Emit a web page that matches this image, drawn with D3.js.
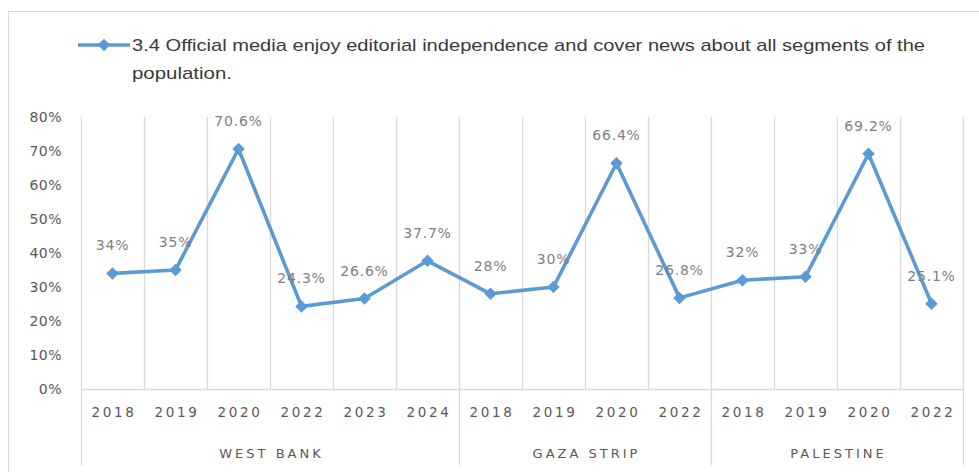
<!DOCTYPE html>
<html>
<head>
<meta charset="utf-8">
<script src="https://cdn.jsdelivr.net/npm/d3@7"></script>
<style>
  html, body { margin: 0; padding: 0; background: #fff; }
  svg { display: block; }
</style>
</head>
<body>
<div id="chart"></div>
<script>
const groups = ['WEST BANK', 'GAZA STRIP', 'PALESTINE'];
const years = [
  ['2018', '2019', '2020', '2022', '2023', '2024'],
  ['2018', '2019', '2020', '2022'],
  ['2018', '2019', '2020', '2022']
];
const values = [
  [34, 35, 70.6, 24.3, 26.6, 37.7],
  [28, 30, 66.4, 26.8],
  [32, 33, 69.2, 25.1]
];
const labels = [
  ['34%', '35%', '70.6%', '24.3%', '26.6%', '37.7%'],
  ['28%', '30%', '66.4%', '26.8%'],
  ['32%', '33%', '69.2%', '25.1%']
];
const yTicks = [0, 10, 20, 30, 40, 50, 60, 70, 80];
const seriesName = '3.4 Official media enjoy editorial independence and cover news about all segments of the';
const seriesName2 = 'population.';

const W = 979, H = 472;
const mLeft = 81, mRight = 963, mTop = 117, mBottom = 389;
const blue = '#5b9bd5', grid = '#d9d9d9', txt = '#595959';

// flatten into one list of points
const rows = [];
groups.forEach((g, gi) => years[gi].forEach((yr, i) => rows.push({
  key: gi + '-' + yr, group: g, year: yr, value: values[gi][i], label: labels[gi][i]
})));

const x = d3.scaleBand().domain(rows.map(d => d.key)).range([mLeft, mRight]);
const y = d3.scaleLinear().domain([0, 80]).range([mBottom, mTop]);
const cx = d => x(d.key) + x.bandwidth() / 2;

const svg = d3.select('#chart').append('svg')
  .attr('width', W).attr('height', H)
  .style('font-family', '"DejaVu Sans", sans-serif');

// outer frame
svg.append('rect')
  .attr('x', 8.5).attr('y', 11.5).attr('width', W + 10).attr('height', H + 10)
  .attr('fill', 'none').attr('stroke', grid);

// vertical gridlines at band edges
const edges = rows.map(d => x(d.key)).concat([mRight]);
svg.append('g').selectAll('line')
  .data(edges)
  .join('line')
  .attr('x1', d => Math.round(d) + 0.5).attr('x2', d => Math.round(d) + 0.5)
  .attr('y1', mTop).attr('y2', mBottom)
  .attr('stroke', grid).attr('stroke-width', 1.3);

// group separators extend down through labels
const sepX = [mLeft];
let n = 0;
years.forEach(ys => { n += ys.length; sepX.push(x(rows[n - 1].key) + x.bandwidth()); });
svg.append('g').selectAll('line')
  .data(sepX)
  .join('line')
  .attr('x1', d => Math.round(d) + 0.5).attr('x2', d => Math.round(d) + 0.5)
  .attr('y1', mBottom).attr('y2', 465)
  .attr('stroke', grid).attr('stroke-width', 1.3);

// baseline
svg.append('line')
  .attr('x1', mLeft).attr('x2', mRight)
  .attr('y1', y(0) + 0.5).attr('y2', y(0) + 0.5)
  .attr('stroke', grid).attr('stroke-width', 1.3);

// y axis labels
svg.append('g').selectAll('text')
  .data(yTicks)
  .join('text')
  .attr('x', 62).attr('y', d => y(d) + 5)
  .attr('text-anchor', 'end')
  .attr('font-size', 14).attr('letter-spacing', 0.5)
  .attr('fill', txt)
  .text(d => d + '%');

// year labels
svg.append('g').selectAll('text')
  .data(rows)
  .join('text')
  .attr('x', d => cx(d) + 1.5)
  .attr('y', 417)
  .attr('text-anchor', 'middle')
  .attr('font-size', 13.5).attr('letter-spacing', 2.6)
  .attr('fill', txt)
  .text(d => d.year);

// group labels
svg.append('g').selectAll('text')
  .data(groups)
  .join('text')
  .attr('x', (d, i) => (sepX[i] + sepX[i + 1]) / 2 + 1.5)
  .attr('y', 458)
  .attr('text-anchor', 'middle')
  .attr('font-size', 13).attr('letter-spacing', 3)
  .attr('fill', txt)
  .text(d => d);

// line
const line = d3.line().x(cx).y(d => y(d.value));
svg.append('path')
  .datum(rows)
  .attr('d', line)
  .attr('fill', 'none')
  .attr('stroke', blue).attr('stroke-width', 3.6)
  .attr('stroke-linejoin', 'round');

// markers (square rotated into a diamond)
const marker = d3.symbol().type(d3.symbolSquare).size(78);
svg.append('g').selectAll('path')
  .data(rows)
  .join('path')
  .attr('transform', d => `translate(${cx(d)},${y(d.value)}) rotate(45)`)
  .attr('d', marker)
  .attr('fill', blue);

// data labels
svg.append('g').selectAll('text')
  .data(rows)
  .join('text')
  .attr('x', cx)
  .attr('y', d => y(d.value) - 23)
  .attr('text-anchor', 'middle')
  .attr('font-size', 14).attr('letter-spacing', 0.8)
  .attr('fill', '#7f7f7f')
  .text(d => d.label);

// legend
const lg = svg.append('g');
lg.append('line')
  .attr('x1', 78).attr('x2', 130).attr('y1', 45).attr('y2', 45)
  .attr('stroke', blue).attr('stroke-width', 3.6);
lg.append('path')
  .attr('transform', 'translate(104,45) rotate(45)')
  .attr('d', marker)
  .attr('fill', blue);
lg.append('text')
  .attr('x', 132).attr('y', 51)
  .attr('font-family', '"Liberation Sans", sans-serif')
  .attr('font-size', 17)
  .attr('textLength', 793).attr('lengthAdjust', 'spacingAndGlyphs')
  .attr('fill', '#3a3a3a')
  .text(seriesName);
lg.append('text')
  .attr('x', 132).attr('y', 79)
  .attr('font-family', '"Liberation Sans", sans-serif')
  .attr('font-size', 17)
  .attr('textLength', 100).attr('lengthAdjust', 'spacingAndGlyphs')
  .attr('fill', '#3a3a3a')
  .text(seriesName2);
</script>
</body>
</html>
